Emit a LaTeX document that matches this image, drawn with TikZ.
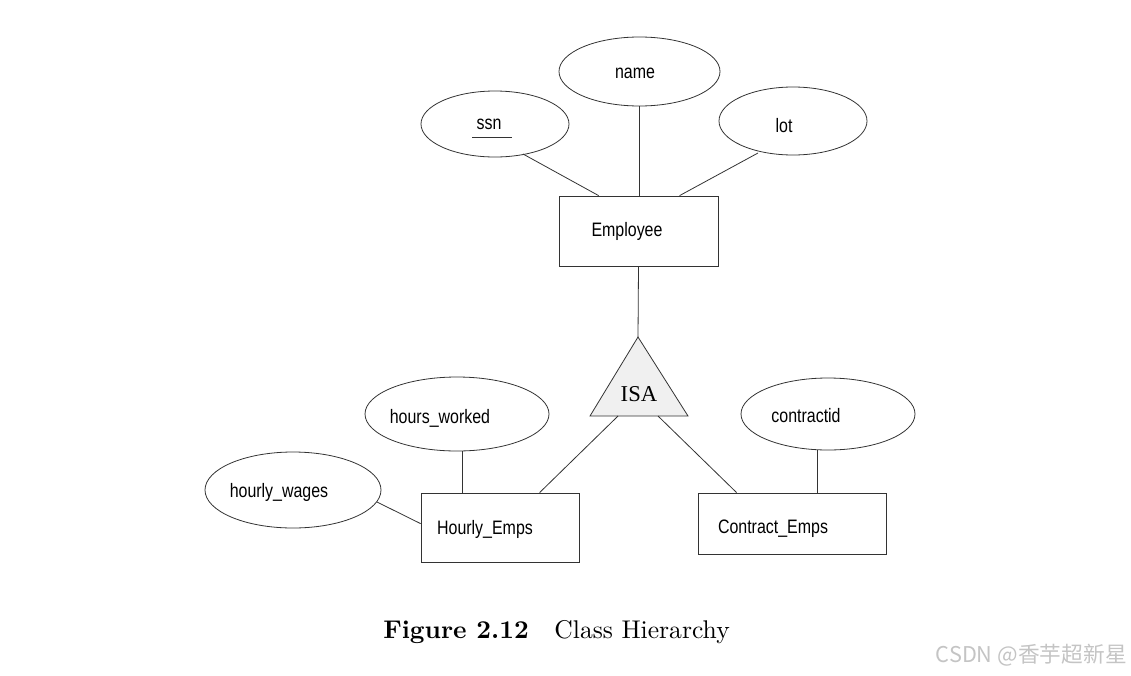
\documentclass[tikz,border=0pt]{standalone}
\usepackage{fontspec}
\usetikzlibrary{shapes.geometric,calc}
\newfontfamily\erfont[FakeStretch=0.82]{Liberation Sans}
\newfontfamily\isafont{Liberation Serif}
\newfontfamily\wmfont{Noto Sans CJK SC}
\definecolor{linecol}{HTML}{333333}
\definecolor{isafill}{HTML}{F0F0F0}
\definecolor{wmcol}{HTML}{C4C4C4}
\tikzset{
  attr/.style={draw=linecol, line width=0.6pt, ellipse, inner sep=0pt},
  ent/.style={draw=linecol, line width=0.6pt, rectangle, inner sep=0pt},
  lbl/.style={font=\erfont\fontsize{14.6}{16}\selectfont, inner sep=0pt},
  conn/.style={draw=linecol, line width=0.6pt},
}
\begin{document}
\begin{tikzpicture}[x=0.75pt, y=-0.75pt]
\useasboundingbox (0,0) rectangle (1131,675);
% attributes
\node[attr, minimum width=111pt, minimum height=49.5pt] (ssn) at (495,124) {};
\node[attr, minimum width=120.75pt, minimum height=51.75pt] (name) at (639.5,71.5) {};
\node[attr, minimum width=111pt, minimum height=51pt] (lot) at (793,121) {};
\node[attr, minimum width=138pt, minimum height=55.5pt] (hw) at (457,414) {};
\node[attr, minimum width=132pt, minimum height=57pt] (wage) at (293,490) {};
\node[attr, minimum width=130.5pt, minimum height=54pt] (cid) at (828,414) {};
\node[lbl] (tssn) at (489,124) {ssn};
\draw[linecol, line width=0.6pt] (472,137) -- (512,137);
\node[lbl] (tname) at (635,73) {name};
\node[lbl] (tlot) at (784,126) {lot};
\node[lbl] (thw) at (440,418) {hours\_worked};
\node[lbl] (twage) at (279,492) {hourly\_wages};
\node[lbl] (tcid) at (806,416) {contractid};
% entities
\node[ent, minimum width=119.25pt, minimum height=52.5pt] (emp) at (638.5,231) {};
\node[ent, minimum width=118.5pt, minimum height=51.75pt] (hourly) at (500,527.5) {};
\node[ent, minimum width=141pt, minimum height=45.75pt] (contract) at (792,523.5) {};
\node[lbl] (temp) at (627,231) {Employee};
\node[lbl] (thourly) at (485,529) {Hourly\_Emps};
\node[lbl] (tcontract) at (773,529) {Contract\_Emps};
% ISA triangle
\coordinate (isatop) at (638,337);
\coordinate (isabl) at (590,416);
\coordinate (isabr) at (688,416);
\draw[conn, fill=isafill] (isatop) -- (isabl) -- (isabr) -- cycle;
\node[font=\isafont\fontsize{17}{19}\selectfont, inner sep=0pt] (isa) at (639,394) {ISA};
% connector end points
\coordinate (hwfoot) at ($(hw.south)+(5,0)$);
\coordinate (cidfoot) at ($(cid.south)+(-11,0)$);
% connectors
\draw[conn] ($(ssn)+(28,30)$) -- ($(emp.north west)+(40,0)$);
\draw[conn] (name.south) -- (name.south |- emp.north);
\draw[conn] ($(lot)+(-35,32)$) -- ($(emp.north west)+(121,0)$);
\draw[conn] (emp.south) -- (isatop);
\draw[conn] ($(isabl)!0.286!(isabr)$) -- ($(hourly.north west)+(119,0)$);
\draw[conn] ($(isabl)!0.694!(isabr)$) -- ($(contract.north west)+(39,0)$);
\draw[conn] (hwfoot) -- (hwfoot |- hourly.north);
\draw[conn] ($(wage)+(84,12)$) -- ($(hourly.north west)+(0,31)$);
\draw[conn] (cidfoot) -- (cidfoot |- contract.north);
% caption
\node[inner sep=0pt, anchor=west] (cap) at (383,632) {\scalebox{1.92}{\textbf{Figure 2.12}\quad Class Hierarchy}};
% watermark
\node[inner sep=0pt, anchor=east, text=wmcol, font=\wmfont\fontsize{16.3}{18}\selectfont] (wm) at (1127,655) {CSDN @香芋超新星};
\end{tikzpicture}
\end{document}
